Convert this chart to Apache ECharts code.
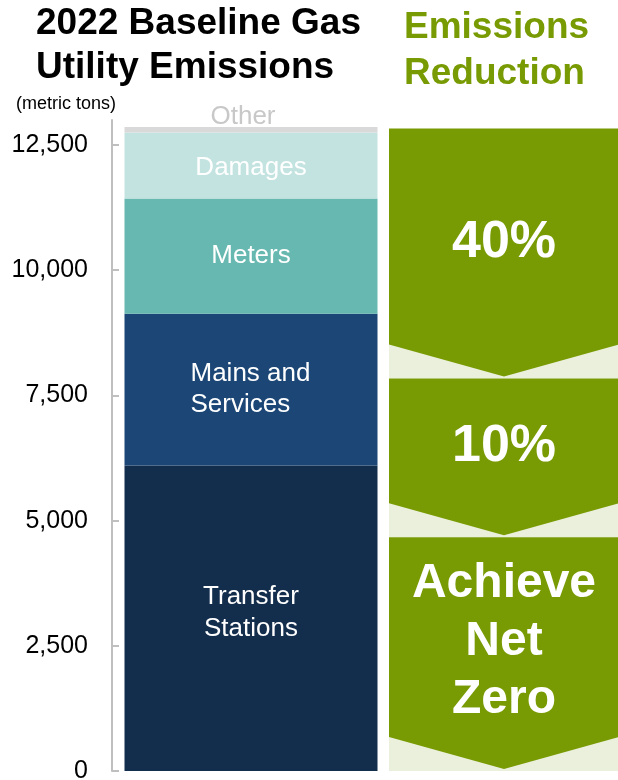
<!DOCTYPE html>
<html>
<head>
<meta charset="utf-8">
<title>2022 Baseline Gas Utility Emissions</title>
<script src="https://cdn.jsdelivr.net/npm/echarts@6/dist/echarts.min.js"></script>
<style>
  html, body { margin: 0; padding: 0; background: #fff; }
  #chart { width: 618px; height: 780px; }
</style>
</head>
<body>
<div id="chart"></div>
<script>
// baseline emissions by source (metric tons), bottom to top
const sources = ['Transfer Stations', 'Mains and Services', 'Meters', 'Damages', 'Other']
const sourceLabels = ['Transfer\nStations', 'Mains and\nServices', 'Meters', 'Damages', 'Other']
const sourceValues = [6100, 3030, 2300, 1320, 110]
const sourceColors = ['#132d4c', '#1b4676', '#66b8b0', '#c3e3e0', '#d9d9d9']

// y axis ticks
const yTicks = [0, 2500, 5000, 7500, 10000, 12500]

// reduction steps on the right, spans in metric tons
const stepLabels = ['40%', '10%', 'Achieve\nNet\nZero']
const stepTop = [12830, 7840, 4670]
const stepBottom = [7840, 4670, 0]

const green = '#789a03'
const lightGreen = '#ebf0dc'
const font = 'Liberation Sans, Arial, sans-serif'

const chart = echarts.init(document.getElementById('chart'))

// label placement per segment
const labelCfg = [
  { position: 'inside', offset: [0, -5], lineHeight: 32 },
  { position: [66, '50%'], align: 'left', verticalAlign: 'middle', lineHeight: 31, offset: [0, 0] },
  { position: 'inside', offset: [0, 0] },
  { position: 'inside', offset: [0, 2] },
  { position: 'top', distance: -3, color: '#c8c8c8', offset: [-8, 0] }
]

const barSeries = sources.map((name, i) => ({
  name: name,
  type: 'bar',
  stack: 'total',
  xAxisIndex: 0,
  yAxisIndex: 0,
  barWidth: 253,
  data: [sourceValues[i]],
  itemStyle: { color: sourceColors[i] },
  label: Object.assign({
    show: true,
    formatter: sourceLabels[i],
    color: '#fff',
    fontSize: 26,
    fontFamily: font
  }, labelCfg[i]),
  emphasis: { disabled: true }
}))

const stepSeries = {
  type: 'custom',
  xAxisIndex: 1,
  yAxisIndex: 1,
  data: stepLabels.map((l, i) => [i, stepTop[i], stepBottom[i]]),
  renderItem: function (params, api) {
    const cs = params.coordSys
    const i = api.value(0)
    const y0 = api.coord([0, api.value(1)])[1]
    const y1 = api.coord([0, api.value(2)])[1]
    const x0 = cs.x
    const w = cs.width
    const depth = 34
    const ySide = y1 - depth
    const isBig = i === 2
    return {
      type: 'group',
      children: [
        {
          type: 'rect',
          shape: { x: x0, y: ySide - 1, width: w, height: y1 - ySide + 1 },
          style: { fill: lightGreen }
        },
        {
          type: 'polygon',
          shape: { points: [[x0, y0], [x0 + w, y0], [x0 + w, ySide], [x0 + w / 2, y1 - 2], [x0, ySide]] },
          style: { fill: green }
        },
        {
          type: 'text',
          style: {
            x: x0 + w / 2,
            y: (y0 + ySide) / 2 + (isBig ? 5 : 6),
            text: stepLabels[i],
            fill: '#fff',
            font: 'bold ' + (isBig ? 48 : 52) + 'px ' + font,
            lineHeight: 58,
            align: 'center',
            verticalAlign: 'middle'
          }
        }
      ]
    }
  }
}

chart.setOption({
  animation: false,
  title: [
    {
      text: '2022 Baseline Gas\nUtility Emissions',
      left: 36,
      top: 2,
      padding: 0,
      textStyle: { fontSize: 37, fontWeight: 'bold', color: '#000', fontFamily: font, lineHeight: 44 }
    },
    {
      text: 'Emissions\nReduction',
      left: 404,
      top: 5,
      padding: 0,
      textStyle: { fontSize: 37, fontWeight: 'bold', color: green, fontFamily: font, lineHeight: 46 }
    },
    {
      text: '(metric tons)',
      left: 16,
      top: 95,
      padding: 0,
      textStyle: { fontSize: 18, fontWeight: 'normal', color: '#000', fontFamily: font }
    }
  ],
  grid: [
    { left: 112, top: 120, width: 278, bottom: 9, outerBoundsMode: 'none' },
    { left: 389, top: 120, width: 230, bottom: 9, outerBoundsMode: 'none' }
  ],
  xAxis: [
    { type: 'category', gridIndex: 0, data: ['2022'], show: false },
    { type: 'value', gridIndex: 1, min: 0, max: 1, show: false }
  ],
  yAxis: [
    {
      type: 'value',
      gridIndex: 0,
      min: 0,
      max: 13000,
      axisLine: { show: true, lineStyle: { color: '#bfbfbf', width: 2 } },
      axisTick: { show: true, inside: true, length: 7, customValues: yTicks, lineStyle: { color: '#bfbfbf', width: 2 } },
      axisLabel: {
        customValues: yTicks,
        formatter: v => v.toLocaleString('en-US'),
        color: '#000',
        fontSize: 25,
        fontFamily: font,
        margin: 24
      },
      splitLine: { show: false }
    },
    { type: 'value', gridIndex: 1, min: 0, max: 13000, show: false }
  ],
  series: barSeries.concat([stepSeries])
})
</script>
</body>
</html>
